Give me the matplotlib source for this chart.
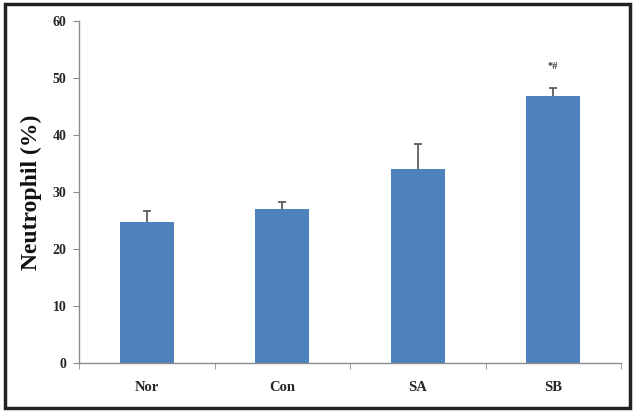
import numpy as np
import matplotlib.pyplot as plt
from matplotlib.patches import Rectangle

groups = ["Nor", "Con", "SA", "SB"]
neutrophil = [24.8, 27.0, 34.0, 46.8]
err_up = [1.9, 1.2, 4.4, 1.4]
marks = ["", "", "", "*#"]

bar_color = "#4f81bd"
axis_color = "#8c8c8c"
text_color = "#262626"

plt.rcParams["font.family"] = ["Liberation Serif", "DejaVu Serif"]
plt.rcParams["font.weight"] = "bold"

fig = plt.figure(figsize=(6.34, 4.13), dpi=100)
ax = fig.add_axes([79 / 634, 50 / 413, 542 / 634, 342 / 413])

x = np.arange(len(groups))
ax.bar(x, neutrophil, width=0.4, color=bar_color, zorder=2)
eb = ax.errorbar(x, neutrophil, yerr=[np.zeros(len(groups)), err_up], fmt="none",
                 ecolor="#505050", elinewidth=1.2, capsize=3, capthick=1.2, zorder=3)
# only the upper cap is shown
eb[1][0].set_visible(False)

for xi, val, e, m in zip(x, neutrophil, err_up, marks):
    if m:
        ax.text(xi, val + e + 3.0, m, ha="center", va="bottom", fontsize=7.5, color="#333333")

ax.set_xlim(-0.5, len(groups) - 0.5)
ax.set_ylim(0, 60)
ax.set_yticks(np.arange(0, 61, 10))
ax.set_xticks(x)
ax.set_xticklabels(groups, fontsize=10.5, fontweight="bold", color=text_color)
ax.set_xticks(np.arange(-0.5, len(groups)), minor=True)
ax.tick_params(axis="x", which="major", length=0, pad=13)
ax.tick_params(axis="x", which="minor", length=4, color=axis_color, direction="out")
ax.tick_params(axis="y", length=4, color=axis_color, labelsize=10, labelcolor=text_color, pad=5)
for lbl in ax.get_yticklabels():
    lbl.set_fontweight("bold")

for s in ["top", "right"]:
    ax.spines[s].set_visible(False)
for s in ["left", "bottom"]:
    ax.spines[s].set_color(axis_color)
    ax.spines[s].set_linewidth(1.0)

ax.set_ylabel("Neutrophil (%)", fontsize=17, fontweight="bold", color="#111111", labelpad=8)

# dark frame around the whole picture
fig.patches.append(Rectangle((5 / 634, 5 / 413), 625 / 634, 404 / 413, transform=fig.transFigure,
                             fill=False, edgecolor="#222222", linewidth=2.5))

plt.savefig("out.png", dpi=100)
